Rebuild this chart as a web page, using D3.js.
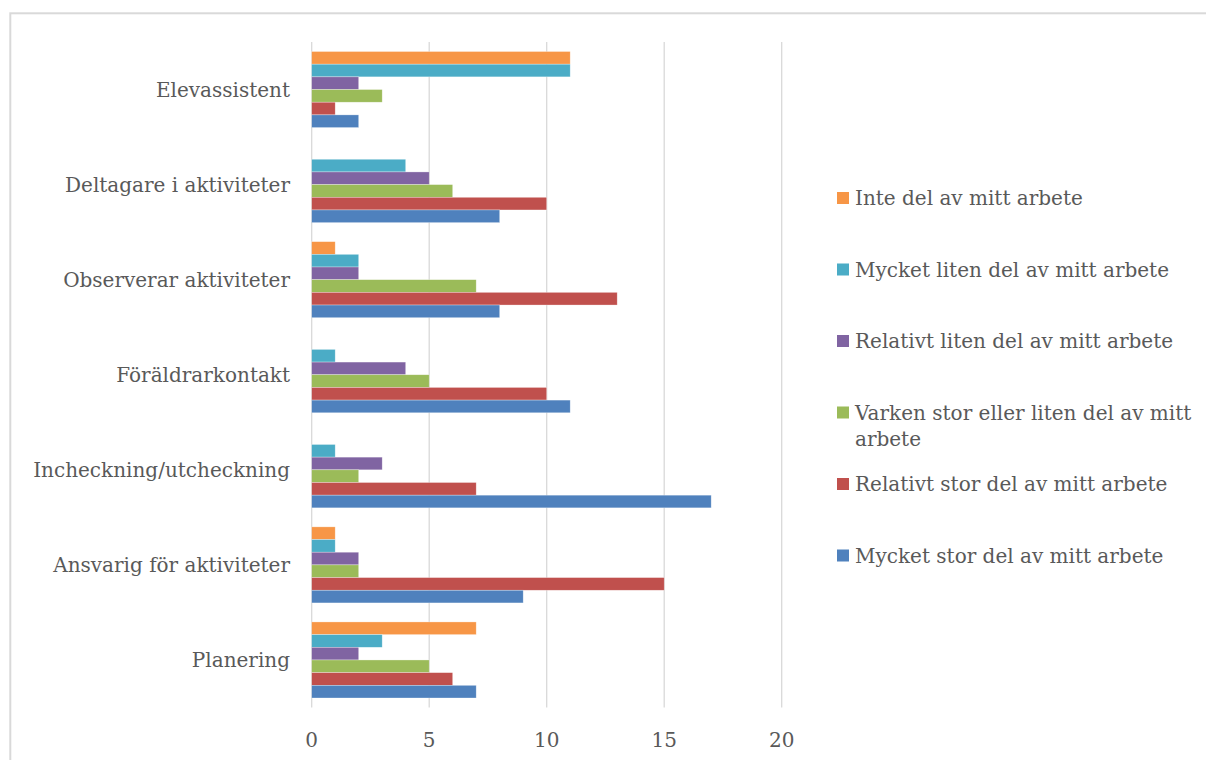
<!DOCTYPE html>
<html>
<head>
<meta charset="utf-8">
<script src="https://cdn.jsdelivr.net/npm/d3@7"></script>
<style>
  body { margin: 0; background: #fff; }
  svg text { font-family: "DejaVu Serif", serif; fill: #595959; }
</style>
</head>
<body>
<div id="chart"></div>
<script>
// categories top to bottom
const categories = ["Elevassistent", "Deltagare i aktiviteter", "Observerar aktiviteter",
    "Föräldrarkontakt", "Incheckning/utcheckning", "Ansvarig för aktiviteter", "Planering"];

// series in the order they appear inside each group (top to bottom) and in the legend
const seriesNames = ["Inte del av mitt arbete", "Mycket liten del av mitt arbete",
    "Relativt liten del av mitt arbete", "Varken stor eller liten del av mitt arbete",
    "Relativt stor del av mitt arbete", "Mycket stor del av mitt arbete"];
const seriesColors = ["#F79646", "#4BACC6", "#8064A2", "#9BBB59", "#C0504D", "#4F81BD"];

// values per series, one per category
const inteDel      = [11, 0, 1, 0, 0, 1, 7];
const mycketLiten  = [11, 4, 2, 1, 1, 1, 3];
const relativtLiten = [2, 5, 2, 4, 3, 2, 2];
const varken       = [3, 6, 7, 5, 2, 2, 5];
const relativtStor = [1, 10, 13, 10, 7, 15, 6];
const mycketStor   = [2, 8, 8, 11, 17, 9, 7];
const seriesValues = [inteDel, mycketLiten, relativtLiten, varken, relativtStor, mycketStor];

const xTicks = [0, 5, 10, 15, 20];

const width = 1206, height = 760;

const svg = d3.select("#chart").append("svg")
    .attr("width", width)
    .attr("height", height);

// chart area border
svg.append("rect")
    .attr("x", 10.3).attr("y", 13.3)
    .attr("width", 1300).attr("height", 1000)
    .attr("fill", "none")
    .attr("stroke", "#d9d9d9")
    .attr("stroke-width", 2);

const x = d3.scaleLinear().domain([0, 20]).range([311.7, 781.7]);
const y = d3.scaleBand().domain(categories).range([42, 707.5])
    .paddingInner(0.2).paddingOuter(0.1);
const ySub = d3.scaleBand().domain(d3.range(seriesNames.length)).range([0, y.bandwidth()]);

// gridlines
svg.append("g").selectAll("line")
    .data(xTicks)
    .join("line")
    .attr("x1", d => x(d)).attr("x2", d => x(d))
    .attr("y1", 42).attr("y2", 707.5)
    .attr("stroke", "#d9d9d9")
    .attr("stroke-width", 1.3);

// bars
const groups = svg.append("g").selectAll("g")
    .data(categories)
    .join("g")
    .attr("transform", d => `translate(0,${y(d)})`);

groups.selectAll("rect")
    .data((c, ci) => seriesValues.map((vals, si) => ({ si, v: vals[ci] })))
    .join("rect")
    .attr("x", x(0))
    .attr("y", d => ySub(d.si))
    .attr("width", d => x(d.v) - x(0))
    .attr("height", ySub.bandwidth())
    .attr("fill", d => seriesColors[d.si])
    .attr("stroke", "#fff")
    .attr("stroke-opacity", 0.5)
    .attr("stroke-width", 0.6);

// category labels
svg.append("g").selectAll("text")
    .data(categories)
    .join("text")
    .attr("x", 290)
    .attr("y", d => y(d) + y.bandwidth() / 2)
    .attr("dy", "0.35em")
    .attr("text-anchor", "end")
    .style("font-size", "20px")
    .text(d => d);

// x tick labels
svg.append("g").selectAll("text")
    .data(xTicks)
    .join("text")
    .attr("x", d => x(d))
    .attr("y", 740)
    .attr("dy", "0.35em")
    .attr("text-anchor", "middle")
    .style("font-size", "20px")
    .text(d => d);

// legend
const legend = svg.append("g");
const legendItems = legend.selectAll("g")
    .data(seriesNames)
    .join("g")
    .attr("transform", (d, i) => `translate(837,${198 + i * 71.5})`);

legendItems.append("rect")
    .attr("x", 0).attr("y", -6)
    .attr("width", 12).attr("height", 12)
    .attr("fill", (d, i) => seriesColors[i]);

legendItems.each(function (d) {
    const g = d3.select(this);
    const text = g.append("text")
        .attr("x", 18)
        .style("font-size", "20px");
    const words = d.split(" ");
    let line = [];
    let tspan = text.append("tspan").attr("x", 18).attr("dy", "0.35em");
    for (const w of words) {
        line.push(w);
        tspan.text(line.join(" "));
        if (tspan.node().getComputedTextLength() > 345 && line.length > 1) {
            line.pop();
            tspan.text(line.join(" "));
            line = [w];
            tspan = text.append("tspan").attr("x", 18).attr("dy", "26px").text(w);
        }
    }
});
</script>
</body>
</html>
